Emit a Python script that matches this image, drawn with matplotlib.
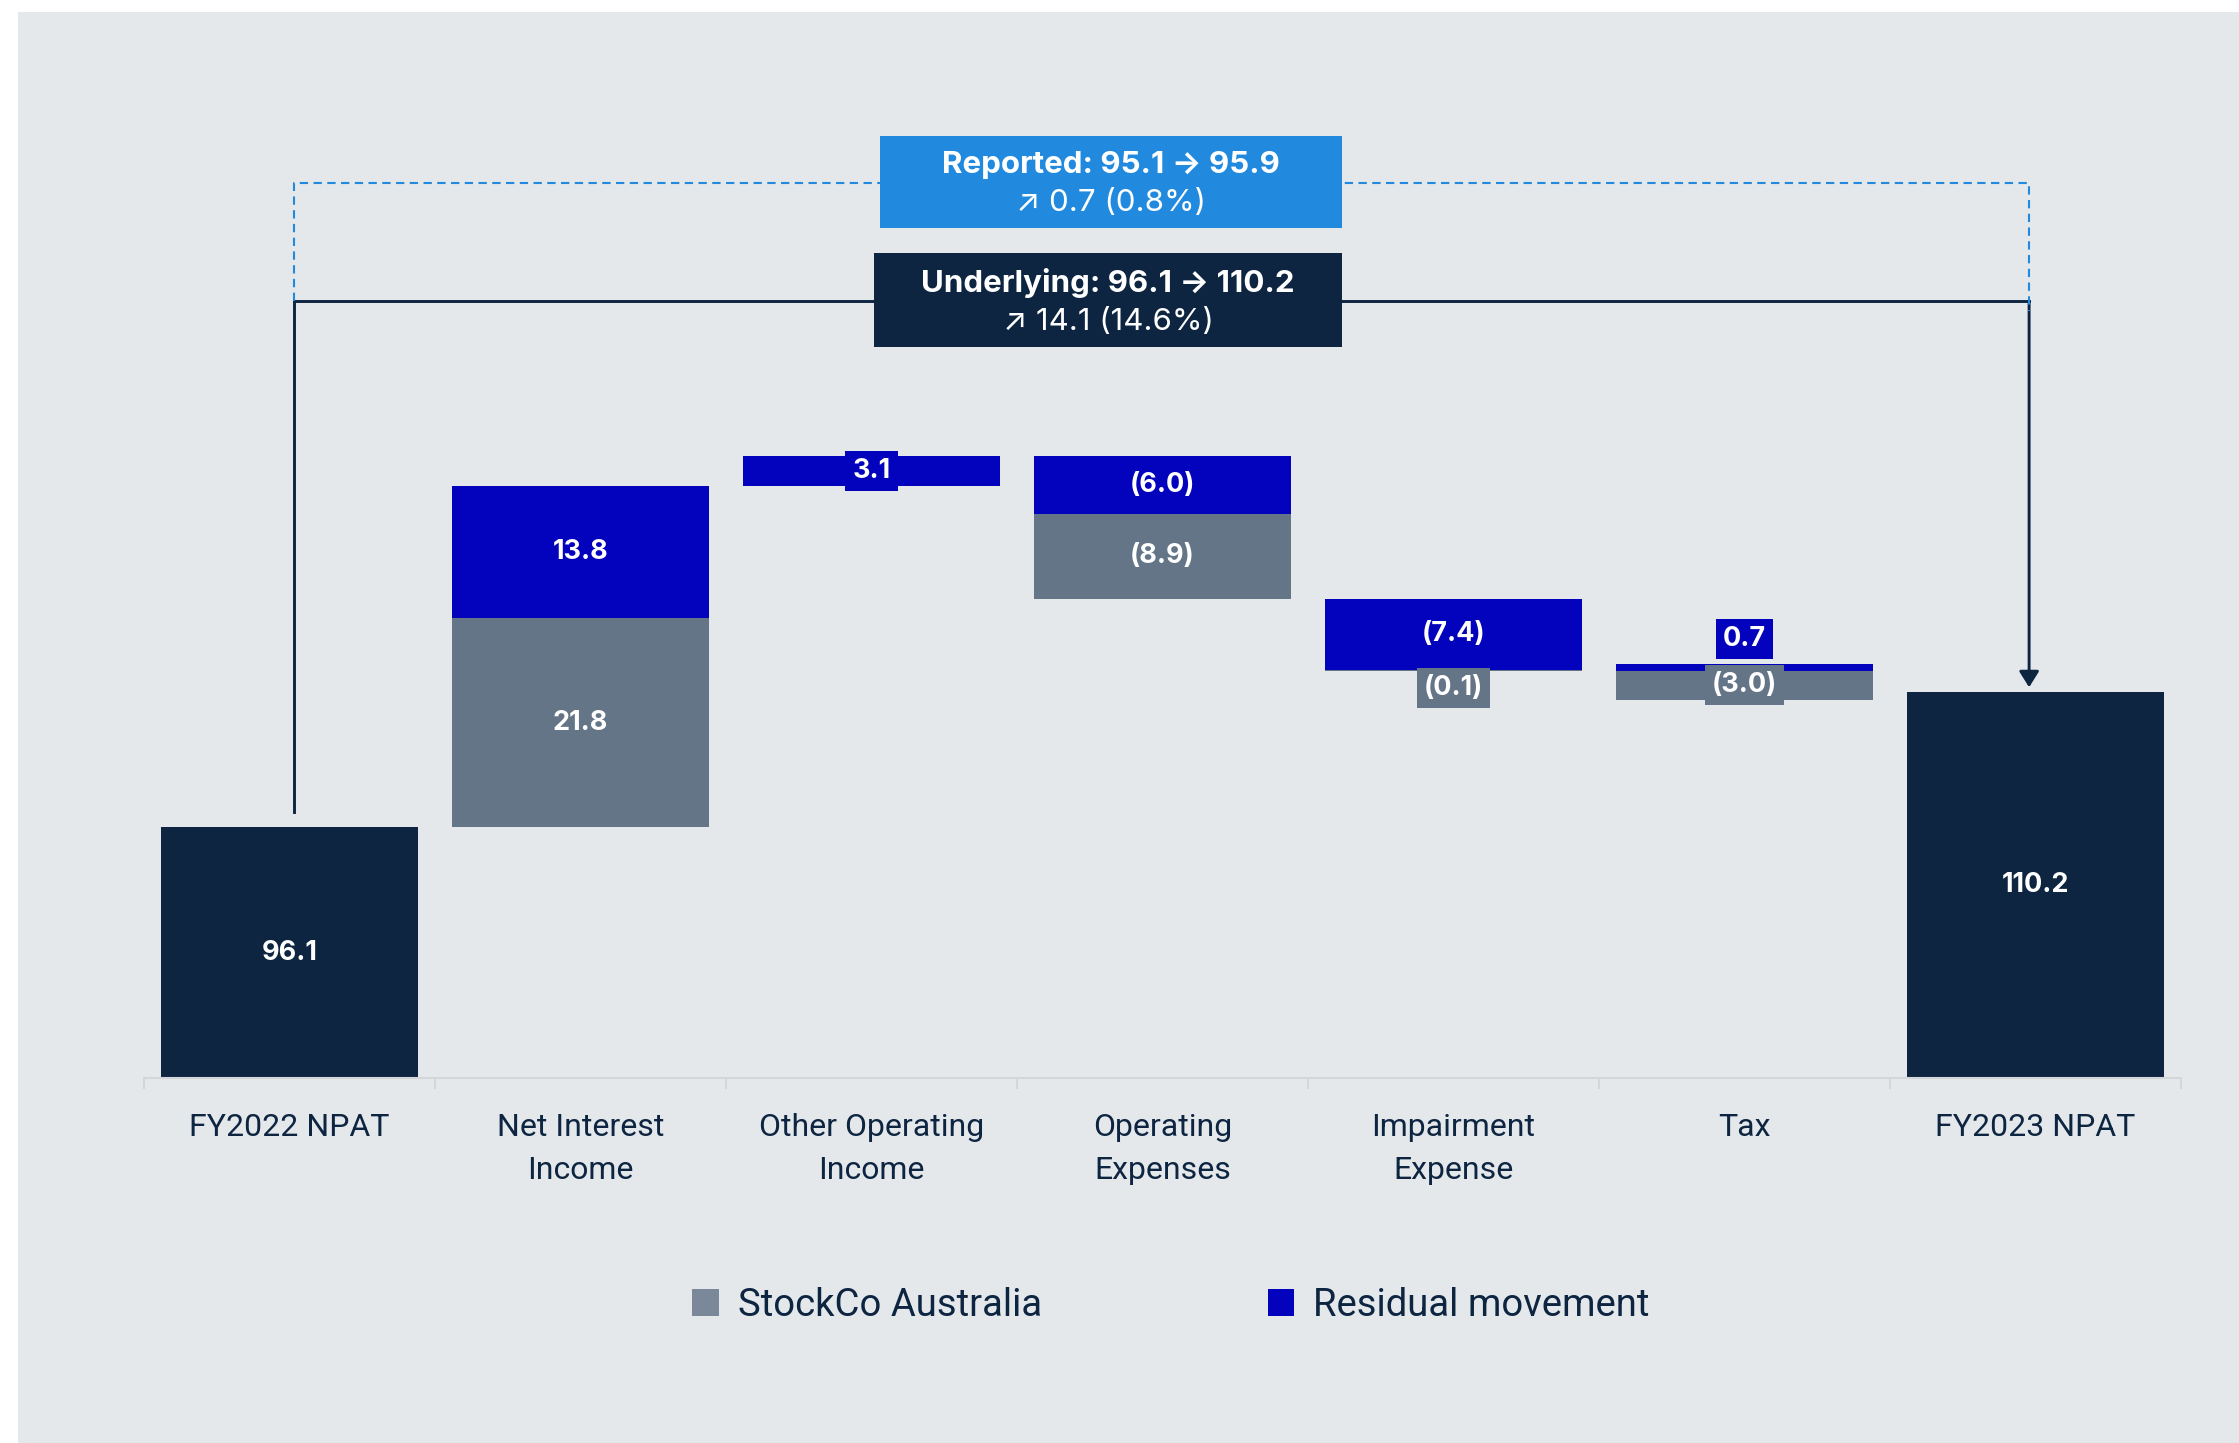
import matplotlib

matplotlib.use("Agg")
import matplotlib.pyplot as plt
import numpy as np
from matplotlib.patches import Patch, Rectangle

# ---- data -----------------------------------------------------------------
categories = [
    "FY2022 NPAT",
    "Net Interest\nIncome",
    "Other Operating\nIncome",
    "Operating\nExpenses",
    "Impairment\nExpense",
    "Tax",
    "FY2023 NPAT",
]
opening_npat = 96.1
closing_npat = 110.2
stockco_move = [21.8, 0.0, -8.9, -0.1, -3.0]
residual_move = [13.8, 3.1, -6.0, -7.4, 0.7]
legend_labels = ["StockCo Australia", "Residual movement"]
reported_lines = ["Reported: 95.1 \u2192 95.9", "\u2197 0.7 (0.8%)"]
underlying_lines = ["Underlying: 96.1 \u2192 110.2", "\u2197 14.1 (14.6%)"]

# ---- style ----------------------------------------------------------------
NAVY = "#0d2541"
BLUE = "#0303bd"
GRAY = "#647588"
GRAY_LEGEND = "#7b8899"
SKY = "#218ade"
PANEL = "#e4e8eb"
AXIS = "#d4d7da"
VAL_FONT = ["Inter", "DejaVu Sans"]
CAT_FONT = ["Roboto", "DejaVu Sans"]
W, H = 2239, 1443
BAR_W = 0.884
VAL_SIZE = 19.5


def fmt(v):
    return f"({abs(v):.1f})" if v < 0 else f"{v:.1f}"


def segment_label(ax, x, lo, hi, v, color):
    kw = dict(
        ha="center", color="white", fontsize=VAL_SIZE, fontweight="bold", family=VAL_FONT, zorder=5,
        bbox=dict(boxstyle="square,pad=0.26", fc=color, ec="none"),
    )
    if abs(v) >= 1:
        ax.text(x, (lo + hi) / 2, fmt(v), va="center", **kw)
    elif v > 0:
        ax.text(x, hi + 1.3, fmt(v), va="bottom", **kw)
    else:
        ax.text(x, lo - 0.4, fmt(v), va="top", **kw)


def draw_movement(ax, x, start, gray_v, blue_v):
    # positives stack upward (gray then blue), negatives stack downward (blue then gray)
    up, down = start, start
    for v, color in ((gray_v, GRAY), (blue_v, BLUE)):
        if v > 0:
            ax.bar(x, v, bottom=up, width=BAR_W, color=color, zorder=2)
            segment_label(ax, x, up, up + v, v, color)
            up += v
    for v, color in ((blue_v, BLUE), (gray_v, GRAY)):
        if v < 0:
            ax.bar(x, v, bottom=down, width=BAR_W, color=color, zorder=2)
            segment_label(ax, x, down + v, down, v, color)
            down += v
    return start + gray_v + blue_v


def header_box(ax, cx, cy, half_w, half_h, color, lines):
    ax.add_patch(Rectangle((cx - half_w, cy - half_h), 2 * half_w, 2 * half_h, fc=color, ec="none", zorder=6))
    ax.text(cx, cy + 1.8, lines[0], ha="center", va="center", color="white", fontsize=22.5,
            fontweight="bold", family=VAL_FONT, zorder=7)
    ax.text(cx, cy - 2.2, lines[1], ha="center", va="center", color="white", fontsize=22.5,
            fontweight="normal", family=VAL_FONT, zorder=7)


def main():
    fig = plt.figure(figsize=(W / 100, H / 100), dpi=100, facecolor="white")
    fig.patches.append(Rectangle((18 / W, 0), 1, 1 - 12 / H, transform=fig.transFigure,
                                 fc=PANEL, ec="none", zorder=-10))

    y_min, y_max = 70, 172
    px_per_unit = 9.6
    bottom = 1 - 1078 / H
    top = bottom + (y_max - y_min) * px_per_unit / H
    ax = fig.add_axes([144 / W, bottom, (2181 - 144) / W, top - bottom])
    ax.set_facecolor("none")
    ax.set_xlim(-0.5, len(categories) - 0.5)
    ax.set_ylim(y_min, y_max)

    # totals
    last = len(categories) - 1
    for x, v in ((0, opening_npat), (last, closing_npat)):
        ax.bar(x, v, width=BAR_W, color=NAVY, zorder=2)
        ax.text(x, (y_min + v) / 2, fmt(v), ha="center", va="center", color="white",
                fontsize=VAL_SIZE, fontweight="bold", family=VAL_FONT, zorder=5)

    running = opening_npat
    for i, (g, b) in enumerate(zip(stockco_move, residual_move), start=1):
        running = draw_movement(ax, i, running, g, b)

    # connectors
    lx, rx = 0.016, last - 0.022
    y_und, y_rep = 150.9, 163.2
    ax.plot([lx, lx, rx], [opening_npat + 1.6, y_und, y_und], color=NAVY, lw=2.1,
            solid_joinstyle="miter", zorder=3)
    ax.annotate("", xy=(rx, closing_npat + 0.5), xytext=(rx, y_und),
                arrowprops=dict(arrowstyle="-|>,head_length=0.4,head_width=0.25", color=NAVY,
                                lw=2.1, shrinkA=0, shrinkB=0, mutation_scale=24), zorder=3)
    ax.plot([lx, lx, rx, rx], [y_und, y_rep, y_rep, y_und - 1.0], color=SKY, lw=1.5,
            ls=(0, (4, 2.6)), zorder=3)

    header_box(ax, 2.823, 163.3, 0.794, 4.8, SKY, reported_lines)
    header_box(ax, 2.813, 151.0, 0.804, 4.9, NAVY, underlying_lines)

    # axes styling
    for side in ("left", "right", "top"):
        ax.spines[side].set_visible(False)
    ax.spines["bottom"].set_color(AXIS)
    ax.spines["bottom"].set_linewidth(1.5)
    ax.set_yticks([])
    ax.set_xticks(range(len(categories)))
    ax.set_xticklabels(categories, fontsize=23, color=NAVY, family=CAT_FONT, linespacing=1.6)
    ax.tick_params(axis="x", which="major", length=0, pad=25)
    ax.set_xticks(np.arange(-0.5, len(categories), 1.0), minor=True)
    ax.tick_params(axis="x", which="minor", length=8, width=1.4, color=AXIS)

    handles = [Patch(fc=GRAY_LEGEND, ec="none"), Patch(fc=BLUE, ec="none")]
    fig.legend(handles, legend_labels, loc="center", bbox_to_anchor=(1171 / W, 1 - 1305 / H),
               ncol=2, frameon=False, prop=dict(family=CAT_FONT, size=27.5), labelcolor=NAVY,
               handlelength=0.7, handleheight=0.7, handletextpad=0.5, columnspacing=5.9)

    fig.savefig("out.png", dpi=100, facecolor=fig.get_facecolor())


if __name__ == "__main__":
    main()
